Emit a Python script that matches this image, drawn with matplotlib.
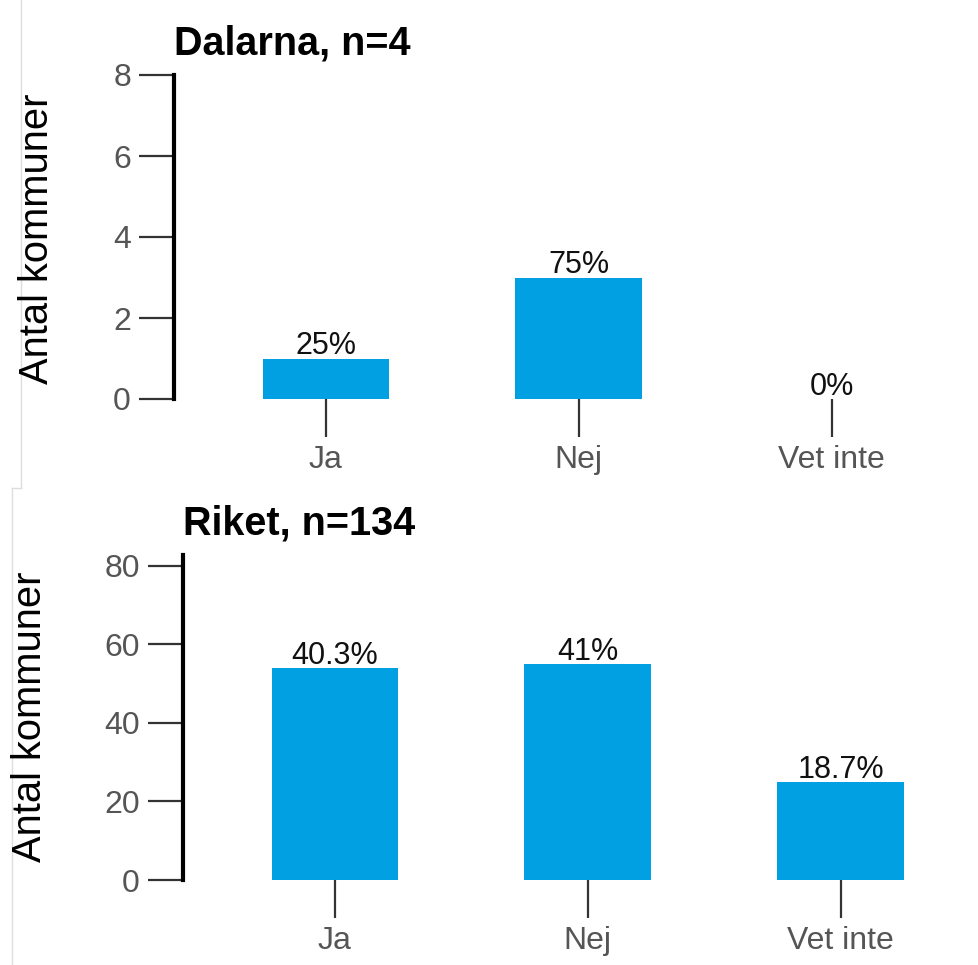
import matplotlib.pyplot as plt
from matplotlib.lines import Line2D

plt.rcParams['font.family'] = ['Liberation Sans', 'DejaVu Sans']

# data
categories = ['Ja', 'Nej', 'Vet inte']
dalarna_counts = [1, 3, 0]
dalarna_pct = ['25%', '75%', '0%']
riket_counts = [54, 55, 25]
riket_pct = ['40.3%', '41%', '18.7%']
dalarna_ticks = [0, 2, 4, 6, 8]
riket_ticks = [0, 20, 40, 60, 80]

W, H = 979, 965
fig = plt.figure(figsize=(W / 100, H / 100), dpi=100)

bar_color = '#00A0E3'
tick_color = '#555555'


def panel(rect, counts, pcts, ticks, ymax, title):
    ax = fig.add_axes(rect)
    x = range(len(categories))
    ax.bar(x, counts, width=0.5, color=bar_color)
    for xi, v, p in zip(x, counts, pcts):
        ax.annotate(p, xy=(xi, v), xytext=(0, 3), textcoords='offset points',
                    ha='center', va='baseline', fontsize=22, color='#111111')
    ax.set_xlim(-0.6, 2.5)
    ax.set_ylim(0, ymax)
    ax.set_xticks(list(x))
    ax.set_xticklabels(categories)
    ax.set_yticks(ticks)
    for s in ['top', 'right', 'bottom']:
        ax.spines[s].set_visible(False)
    ax.spines['left'].set_linewidth(3)
    ax.spines['left'].set_color('black')
    ax.tick_params(axis='y', length=25, width=1.6, color='#333333',
                   labelsize=23, labelcolor=tick_color, pad=6)
    ax.tick_params(axis='x', length=27, width=1.6, color='#333333',
                   labelsize=23, labelcolor=tick_color, pad=6)
    ax.annotate(title, xy=(0, 1), xycoords='axes fraction', xytext=(0, 15),
                textcoords='offset points', ha='left', va='baseline',
                fontsize=28.5, fontweight='bold')
    return ax


panel([174 / W, (H - 399) / H, 784 / W, 324 / H],
      dalarna_counts, dalarna_pct, dalarna_ticks, 8, 'Dalarna, n=4')
panel([183 / W, (H - 880) / H, 784 / W, 325 / H],
      riket_counts, riket_pct, riket_ticks, 82.8, 'Riket, n=134')

fig.text(37 / W, 1 - 239 / H, 'Antal kommuner', rotation=90,
         ha='center', va='center', fontsize=28.7)
fig.text(30 / W, 1 - 717 / H, 'Antal kommuner', rotation=90,
         ha='center', va='center', fontsize=28.7)

# faint panel edges from the screenshot
edge = '#dddddd'
fig.add_artist(Line2D([21 / W, 21 / W], [1, 1 - 488 / H], color=edge, lw=1))
fig.add_artist(Line2D([12 / W, 21 / W], [1 - 488 / H, 1 - 488 / H], color=edge, lw=1))
fig.add_artist(Line2D([12 / W, 12 / W], [1 - 488 / H, 0], color=edge, lw=1))

fig.savefig('out.png', dpi=100)
